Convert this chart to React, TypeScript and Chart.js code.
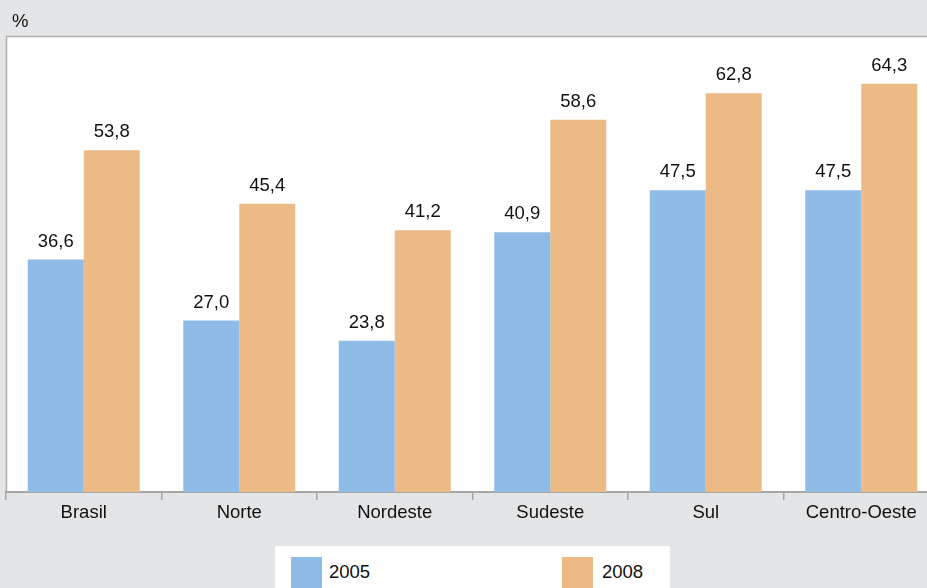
import React, { useEffect, useRef } from "react";
import { Chart, registerables } from "chart.js";

Chart.register(...registerables);

const categories = ["Brasil", "Norte", "Nordeste", "Sudeste", "Sul", "Centro-Oeste"];
const seriesNames = ["2005", "2008"];
const values2005 = [36.6, 27.0, 23.8, 40.9, 47.5, 47.5];
const values2008 = [53.8, 45.4, 41.2, 58.6, 62.8, 64.3];
const seriesColors = ["#8fbce6", "#ebba85"];
const unitLabel = "%";
const yMax = 71.8;

const FONT = '"Liberation Sans", Arial, sans-serif';
const BG = "#e4e5e7";
const LINE = "#a6a6a6";
const TEXT = "#111111";

const fmt = (v: number) => v.toFixed(1).replace(".", ",");

const framePlugin = {
  id: "frame",
  beforeDraw(chart: any) {
    const { ctx, chartArea, width, height } = chart;
    ctx.save();
    ctx.fillStyle = BG;
    ctx.fillRect(0, 0, width, height);
    ctx.fillStyle = "#ffffff";
    ctx.fillRect(chartArea.left, chartArea.top, chartArea.right - chartArea.left, chartArea.bottom - chartArea.top);
    ctx.strokeStyle = "#b0b0b0";
    ctx.lineWidth = 1.5;
    ctx.beginPath();
    ctx.moveTo(chartArea.left + 0.5, chartArea.bottom);
    ctx.lineTo(chartArea.left + 0.5, chartArea.top + 0.5);
    ctx.lineTo(chartArea.right, chartArea.top + 0.5);
    ctx.stroke();
    ctx.fillStyle = TEXT;
    ctx.font = `18.5px ${FONT}`;
    ctx.textAlign = "left";
    ctx.textBaseline = "alphabetic";
    ctx.fillText(unitLabel, 12, 27);
    ctx.restore();
  },
  afterDatasetsDraw(chart: any) {
    const { ctx } = chart;
    ctx.save();
    ctx.fillStyle = TEXT;
    ctx.font = `18.5px ${FONT}`;
    ctx.textAlign = "center";
    ctx.textBaseline = "alphabetic";
    chart.data.datasets.forEach((ds: any, i: number) => {
      const meta = chart.getDatasetMeta(i);
      meta.data.forEach((el: any, j: number) => {
        ctx.fillText(fmt(ds.data[j]), el.x, el.y - 13);
      });
    });
    ctx.restore();
  },
};

export default function App() {
  const ref = useRef<HTMLCanvasElement>(null);

  useEffect(() => {
    document.body.style.margin = "0";
    const chart = new Chart(ref.current as HTMLCanvasElement, {
      type: "bar",
      data: {
        labels: categories,
        datasets: [
          { label: seriesNames[0], data: values2005, backgroundColor: seriesColors[0], borderWidth: 0 },
          { label: seriesNames[1], data: values2008, backgroundColor: seriesColors[1], borderWidth: 0 },
        ],
      },
      options: {
        animation: false,
        responsive: false,
        devicePixelRatio: 1,
        layout: { padding: { left: 6, top: 36, right: 1, bottom: 0 } },
        datasets: { bar: { categoryPercentage: 0.72, barPercentage: 1 } },
        plugins: { legend: { display: false }, tooltip: { enabled: false } },
        scales: {
          y: { display: false, min: 0, max: yMax },
          x: {
            afterFit: (s: any) => {
              s.height = 96;
            },
            grid: {
              offset: true,
              drawOnChartArea: false,
              drawTicks: true,
              tickLength: 8,
              color: LINE,
              lineWidth: 1.5,
            },
            border: { display: true, color: LINE, width: 2 },
            ticks: {
              padding: 2,
              color: TEXT,
              font: { family: FONT, size: 18.5 },
              maxRotation: 0,
            },
          },
        },
      },
      plugins: [framePlugin],
    });
    return () => chart.destroy();
  }, []);

  return (
    <div
      style={{
        position: "fixed",
        left: 0,
        top: 0,
        width: 927,
        height: 588,
        overflow: "hidden",
        background: BG,
      }}
    >
      <canvas ref={ref} width={940} height={588} style={{ position: "absolute", left: 0, top: 0 }} />
      <div
        style={{
          position: "absolute",
          left: 275,
          top: 546,
          width: 395,
          height: 60,
          background: "#ffffff",
          fontFamily: FONT,
          fontSize: 18.5,
          color: TEXT,
        }}
      >
        {seriesNames.map((name, i) => (
          <div key={name} style={{ position: "absolute", left: i === 0 ? 16 : 287, top: 11, display: "flex" }}>
            <div style={{ width: 31, height: 31, background: seriesColors[i] }} />
            <div style={{ marginLeft: i === 0 ? 7 : 9, lineHeight: "31px", marginTop: -1 }}>{name}</div>
          </div>
        ))}
      </div>
    </div>
  );
}
